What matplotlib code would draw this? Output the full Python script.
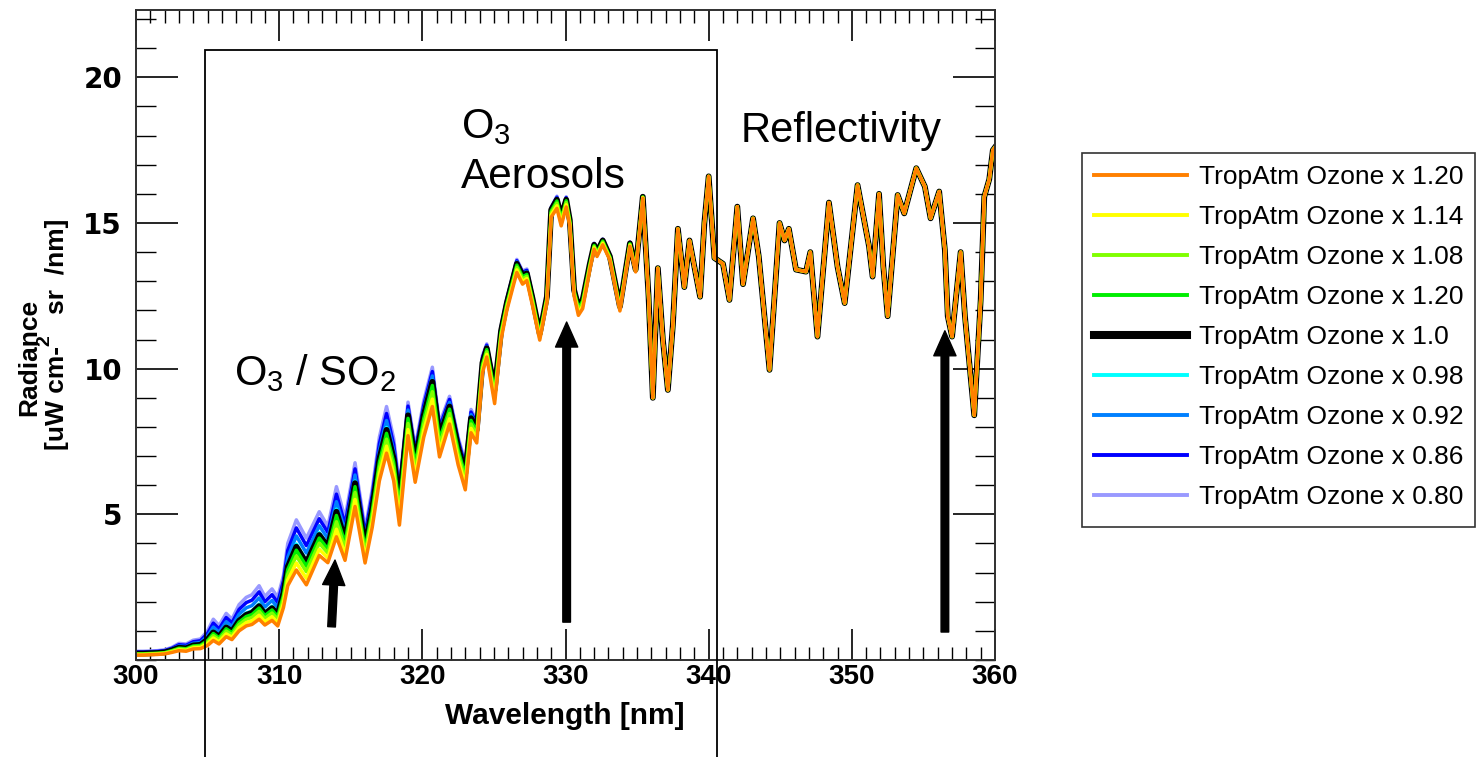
import numpy as np
import matplotlib
matplotlib.use("Agg")
import matplotlib.pyplot as plt
from matplotlib.lines import Line2D
from matplotlib.patches import Rectangle
from matplotlib.ticker import MultipleLocator

plt.rcParams['font.family'] = ['Liberation Sans', 'DejaVu Sans']
plt.rcParams['mathtext.fontset'] = 'custom'
plt.rcParams['mathtext.rm'] = 'Liberation Sans'
plt.rcParams['mathtext.it'] = 'Liberation Sans:italic'
plt.rcParams['mathtext.bf'] = 'Liberation Sans:bold'

# ---------------- data ----------------
wavelength = [300.0, 300.5, 301.0, 301.5, 302.0, 302.5, 303.0, 303.5, 304.0, 304.5,
              305.0, 305.4, 305.8, 306.3, 306.7, 307.2, 307.7, 308.1, 308.6, 309.0,
              309.5, 309.9, 310.3, 310.6, 311.2, 311.9, 312.8, 313.4, 314.0, 314.6,
              315.3, 316.0, 316.5, 317.0, 317.5, 318.0, 318.4, 319.0, 319.5, 320.1,
              320.7, 321.2, 321.9, 322.5, 323.0, 323.4, 323.8, 324.2, 324.5, 325.05,
              325.5, 325.9, 326.6, 327.0, 327.3, 327.7, 328.2, 328.7, 329.0, 329.4,
              329.7, 330.05, 330.3, 330.6, 330.9, 331.2, 331.7, 332.0, 332.2, 332.6,
              333.1, 333.8, 334.5, 334.9, 335.4, 335.8, 336.1, 336.45, 336.8, 337.15,
              337.5, 337.85, 338.3, 338.66, 339.0, 339.4, 339.7, 340.0, 340.4, 341.0,
              341.45, 342.0, 342.4, 343.1, 343.5, 344.25, 344.95, 345.3, 345.6, 346.1,
              346.8, 347.1, 347.6, 348.4, 349.0, 349.5, 350.4, 351.2, 351.45, 351.9,
              352.2, 352.5, 353.2, 353.66, 354.5, 355.1, 355.5, 356.1, 356.5, 356.7,
              357.0, 357.6, 357.9, 358.55, 359.0, 359.25, 359.6, 359.85, 360.0]

# reference curve (TropAtm Ozone x 1.0, black)
radiance_x1 = [0.22, 0.22, 0.23, 0.24, 0.26, 0.33, 0.42, 0.40, 0.50, 0.52,
               0.70, 0.95, 0.80, 1.12, 0.98, 1.35, 1.55, 1.62, 1.85, 1.58,
               1.78, 1.55, 2.30, 3.20, 3.89, 3.33, 4.29, 3.89, 5.09, 4.12,
               6.07, 3.89, 5.20, 6.90, 7.90, 6.90, 5.38, 8.40, 6.80, 8.40,
               9.55, 7.67, 8.70, 7.30, 6.41, 8.30, 7.90, 10.20, 10.70, 9.27,
               11.30, 12.25, 13.60, 13.20, 13.27, 12.40, 11.20, 12.47, 15.45, 15.80,
               15.20, 15.80, 15.10, 12.70, 12.13, 12.36, 13.60, 14.25, 14.00, 14.40,
               13.85, 12.13, 14.30, 13.40, 15.90, 12.50, 9.00, 13.45, 11.00, 9.27,
               11.50, 14.80, 12.80, 14.40, 13.50, 12.47, 15.00, 16.60, 13.80, 13.60,
               12.36, 15.56, 12.90, 15.16, 13.85, 9.96, 15.00, 14.40, 14.80, 13.40,
               13.33, 14.00, 11.10, 15.70, 13.50, 12.25, 16.30, 14.20, 13.16, 16.00,
               13.50, 11.80, 15.96, 15.33, 16.88, 16.25, 15.16, 16.08, 14.07, 11.80,
               11.10, 14.00, 11.80, 8.40, 12.36, 15.90, 16.50, 17.50, 17.60]

# gap between the black curve and the x1.20 (orange) curve, read per point (<= 335.4 nm)
ozone_gap_low = [0.05, 0.05, 0.05, 0.05, 0.05, 0.07, 0.10, 0.10, 0.12, 0.13,
                 0.20, 0.28, 0.25, 0.32, 0.28, 0.35, 0.38, 0.40, 0.45, 0.38,
                 0.42, 0.38, 0.50, 0.65, 0.80, 0.75, 0.70, 0.55, 0.86, 0.70,
                 0.80, 0.56, 0.65, 0.75, 0.80, 0.75, 0.75, 0.70, 0.70, 0.75,
                 0.85, 0.70, 0.60, 0.60, 0.57, 0.50, 0.45, 0.35, 0.30, 0.47,
                 0.30, 0.25, 0.30, 0.30, 0.25, 0.25, 0.22, 0.20, 0.25, 0.30,
                 0.30, 0.25, 0.20, 0.20, 0.30, 0.30, 0.20, 0.15, 0.15, 0.15,
                 0.12, 0.15, 0.10, 0.08, 0.05]
# gap between the x0.80 (lavender) curve and the black curve, read per point
ozone_gap_high = [0.08, 0.08, 0.08, 0.08, 0.09, 0.10, 0.15, 0.15, 0.18, 0.20,
                  0.30, 0.45, 0.38, 0.48, 0.42, 0.55, 0.60, 0.62, 0.70, 0.60,
                  0.66, 0.60, 0.60, 0.80, 0.92, 0.85, 0.80, 0.70, 0.86, 0.75,
                  0.70, 0.60, 0.65, 0.75, 0.80, 0.70, 0.60, 0.45, 0.50, 0.50,
                  0.50, 0.45, 0.35, 0.35, 0.35, 0.30, 0.30, 0.25, 0.15, 0.20,
                  0.15, 0.15, 0.15, 0.15, 0.15, 0.12, 0.12, 0.10, 0.10, 0.12,
                  0.10, 0.10, 0.08, 0.08, 0.10, 0.10, 0.06, 0.06, 0.06, 0.05,
                  0.05, 0.05, 0.05, 0.04, 0.03]

series_labels = ["TropAtm Ozone x 1.20", "TropAtm Ozone x 1.14", "TropAtm Ozone x 1.08",
                 "TropAtm Ozone x 1.20", "TropAtm Ozone x 1.0", "TropAtm Ozone x 0.98",
                 "TropAtm Ozone x 0.92", "TropAtm Ozone x 0.86", "TropAtm Ozone x 0.80"]
# position of each curve inside the band
series_factor = [1.20, 1.14, 1.08, 1.03, 1.00, 0.98, 0.92, 0.86, 0.80]
series_colors = ["#FF8000", "#FFFF00", "#80FF00", "#00EE00", "#000000",
                 "#00FFFF", "#0080FF", "#0000FF", "#9999FF"]

xticks = [300, 310, 320, 330, 340, 350, 360]
yticks = [5, 10, 15, 20]

# ---------------- figure ----------------
W, H = 1476, 757
fig = plt.figure(figsize=(W / 100, H / 100), dpi=100)
fig.patch.set_facecolor("white")


def fx(px):
    return px / W


def fy(py):
    return 1 - py / H


ax = fig.add_axes([fx(136), fy(660), fx(995) - fx(136), fy(10) - fy(660)])

wl = np.array(wavelength)
base = np.array(radiance_x1)
n = len(wl)
g_lo = np.array(ozone_gap_low + [0.0] * (n - len(ozone_gap_low)))
g_hi = np.array(ozone_gap_high + [0.0] * (n - len(ozone_gap_high)))

for i in reversed(range(len(series_labels))):
    f = series_factor[i]
    if f >= 1.0:
        vals = base - g_lo * (f - 1.0) / 0.2
    else:
        vals = base + g_hi * (1.0 - f) / 0.2
    lw = 4.2 if series_colors[i] == "#000000" else 2.5
    ax.plot(wl, vals, color=series_colors[i], lw=lw, solid_joinstyle="round",
            zorder=2 + (len(series_labels) - i) * 0.01)

ax.set_xlim(300, 360)
ax.set_ylim(0, 22.31)
ax.set_xticks(xticks)
ax.set_yticks(yticks)
ax.xaxis.set_minor_locator(MultipleLocator(1))
ax.yaxis.set_minor_locator(MultipleLocator(1))
ax.tick_params(axis="x", which="major", direction="in", length=22, width=1.2,
               top=True, bottom=True, pad=3, labelsize=20)
ax.tick_params(axis="x", which="minor", direction="in", length=9.5, width=1.0,
               top=True, bottom=True)
ax.tick_params(axis="y", which="major", direction="in", length=30, width=1.2,
               left=True, right=True, pad=10, labelsize=20)
ax.tick_params(axis="y", which="minor", direction="in", length=14.5, width=1.0,
               left=True, right=True)
for lab in ax.get_xticklabels():
    lab.set_fontweight("bold")
for lab in ax.get_yticklabels():
    lab.set_fontweight("bold")
    lab.set_family(["DejaVu Sans"])
for sp in ax.spines.values():
    sp.set_linewidth(1.4)
    sp.set_color("#303030")

# x label
fig.text(fx(565), fy(716), "Wavelength [nm]", ha="center", va="center",
         fontsize=21.5, fontweight="bold")
# y label (two lines, superscript 2 raised between the lines as in the original)
fig.text(fx(29), fy(357), "Radiance", rotation=90, ha="center", va="center",
         fontsize=19, fontweight="bold")
fig.text(fx(57), fy(398), "[uW cm-", rotation=90, ha="center", va="center",
         fontsize=19, fontweight="bold")
fig.text(fx(57), fy(266), "sr  /nm]", rotation=90, ha="center", va="center",
         fontsize=19, fontweight="bold")
fig.text(fx(45), fy(341), "2", rotation=90, ha="center", va="center",
         fontsize=14, fontweight="bold")

# region box
ax.add_patch(Rectangle((304.8, -5), 340.55 - 304.8, 20.94 + 5, fill=False,
                       lw=1.3, ec="black", clip_on=False, zorder=10))

# annotations
ax.text(306.84, 9.44, "O$_3$ / SO$_2$", fontsize=30, va="baseline", ha="left")
ax.text(322.68, 17.92, "O$_3$", fontsize=30, va="baseline", ha="left")
ax.text(322.68, 16.2, "Aerosols", fontsize=30.5, va="baseline", ha="left")
ax.text(342.22, 17.78, "Reflectivity", fontsize=30, va="baseline", ha="left")

arrow_kw = dict(facecolor="black", edgecolor="black", width=5.5, headwidth=16,
                headlength=18, shrink=0.0)
ax.annotate("", xy=(313.9, 3.43), xytext=(313.66, 1.14), arrowprops=arrow_kw,
            annotation_clip=False, zorder=12)
ax.annotate("", xy=(330.08, 11.6), xytext=(330.08, 1.3), arrowprops=arrow_kw,
            annotation_clip=False, zorder=12)
ax.annotate("", xy=(356.5, 11.3), xytext=(356.5, 0.96), arrowprops=arrow_kw,
            annotation_clip=False, zorder=12)

# legend (drawn in figure pixels)
fig.add_artist(Rectangle((fx(1082), fy(527)), fx(1475) - fx(1082), fy(153) - fy(527),
                         transform=fig.transFigure, fill=False, lw=1.2, ec="#333333"))
for i, lab in enumerate(series_labels):
    yy = 175 + 40 * i
    lw = 5.8 if series_colors[i] == "#000000" else 2.8
    fig.add_artist(Line2D([fx(1094), fx(1187)], [fy(yy), fy(yy)], color=series_colors[i],
                          lw=lw, transform=fig.transFigure))
    fig.text(fx(1199), fy(yy + 2), lab, ha="left", va="center", fontsize=19)

fig.savefig("out.png", dpi=100)
